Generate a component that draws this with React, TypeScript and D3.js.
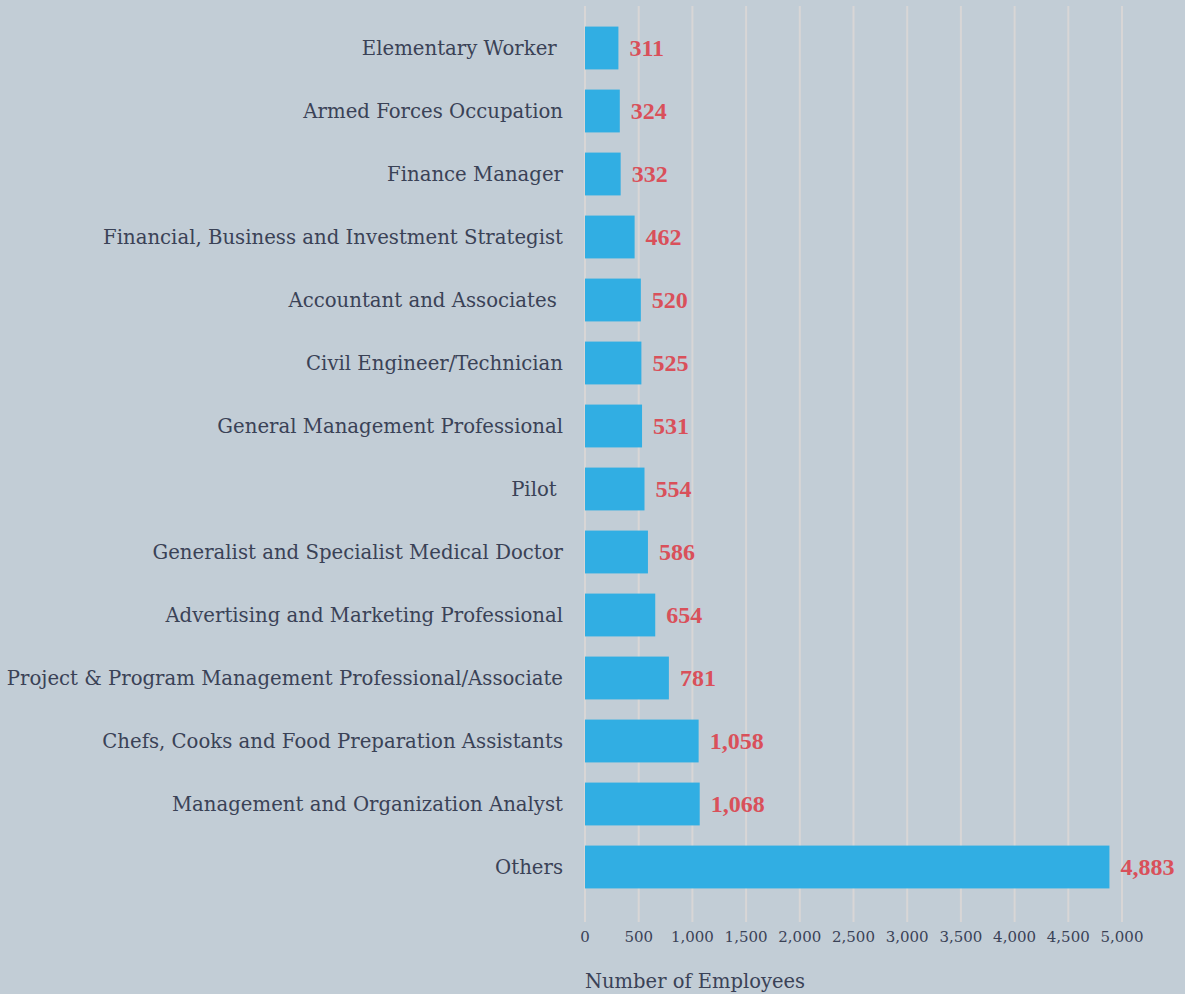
import React from "react";
import * as d3 from "d3";

const categories: string[] = [
  "Elementary Worker ",
  "Armed Forces Occupation",
  "Finance Manager",
  "Financial, Business and Investment Strategist",
  "Accountant and Associates ",
  "Civil Engineer/Technician",
  "General Management Professional",
  "Pilot ",
  "Generalist and Specialist Medical Doctor",
  "Advertising and Marketing Professional",
  "Project & Program Management Professional/Associate",
  "Chefs, Cooks and Food Preparation Assistants",
  "Management and Organization Analyst",
  "Others",
];
const employees: number[] = [311, 324, 332, 462, 520, 525, 531, 554, 586, 654, 781, 1058, 1068, 4883];
const xTicks: number[] = [0, 500, 1000, 1500, 2000, 2500, 3000, 3500, 4000, 4500, 5000];
const axisTitle = "Number of Employees";

const W = 1185;
const H = 994;
const FONT = "'DejaVu Serif', serif";
const VFONT = "'Liberation Serif', serif";

export default function App() {
  const x = d3.scaleLinear().domain([0, 5000]).range([585, 1122]);
  const y = d3.scaleBand<string>().domain(categories).range([16.5, 898.5]).paddingInner(0.32).paddingOuter(0.16);
  const fmt = d3.format(",");
  return (
    <svg width={W} height={H} style={{ position: "absolute", left: 0, top: 0, display: "block" }}>
      <rect x={0} y={0} width={W} height={H} fill="#c2cdd6" />
      {xTicks.map((t) => (
        <line key={t} x1={x(t)} x2={x(t)} y1={6} y2={922} stroke="#d8d6d6" strokeWidth={2} />
      ))}
      {categories.map((c, i) => {
        const yy = y(c)!;
        const bw = y.bandwidth();
        return (
          <g key={c}>
            <rect x={x(0)} y={yy} width={x(employees[i]) - x(0)} height={bw} fill="#31aee3" />
            <text
              x={563}
              y={yy + bw / 2}
              dy="0.35em"
              textAnchor="end"
              fontFamily={FONT}
              fontSize={19.7}
              fill="#3a4256"
              style={{ whiteSpace: "pre" }}
            >
              {c}
            </text>
            <text
              x={x(employees[i]) + 11}
              y={yy + bw / 2}
              dy="0.33em"
              fontFamily={VFONT}
              fontSize={24}
              fontWeight="bold"
              fill="#d9505a"
            >
              {fmt(employees[i])}
            </text>
          </g>
        );
      })}
      {xTicks.map((t) => (
        <text key={"l" + t} x={x(t)} y={937} dy="0.35em" textAnchor="middle" fontFamily={FONT} fontSize={15} fill="#3a4256">
          {fmt(t)}
        </text>
      ))}
      <text x={585} y={981} dy="0.35em" fontFamily={FONT} fontSize={19.5} fill="#3a4256">
        {axisTitle}
      </text>
    </svg>
  );
}
